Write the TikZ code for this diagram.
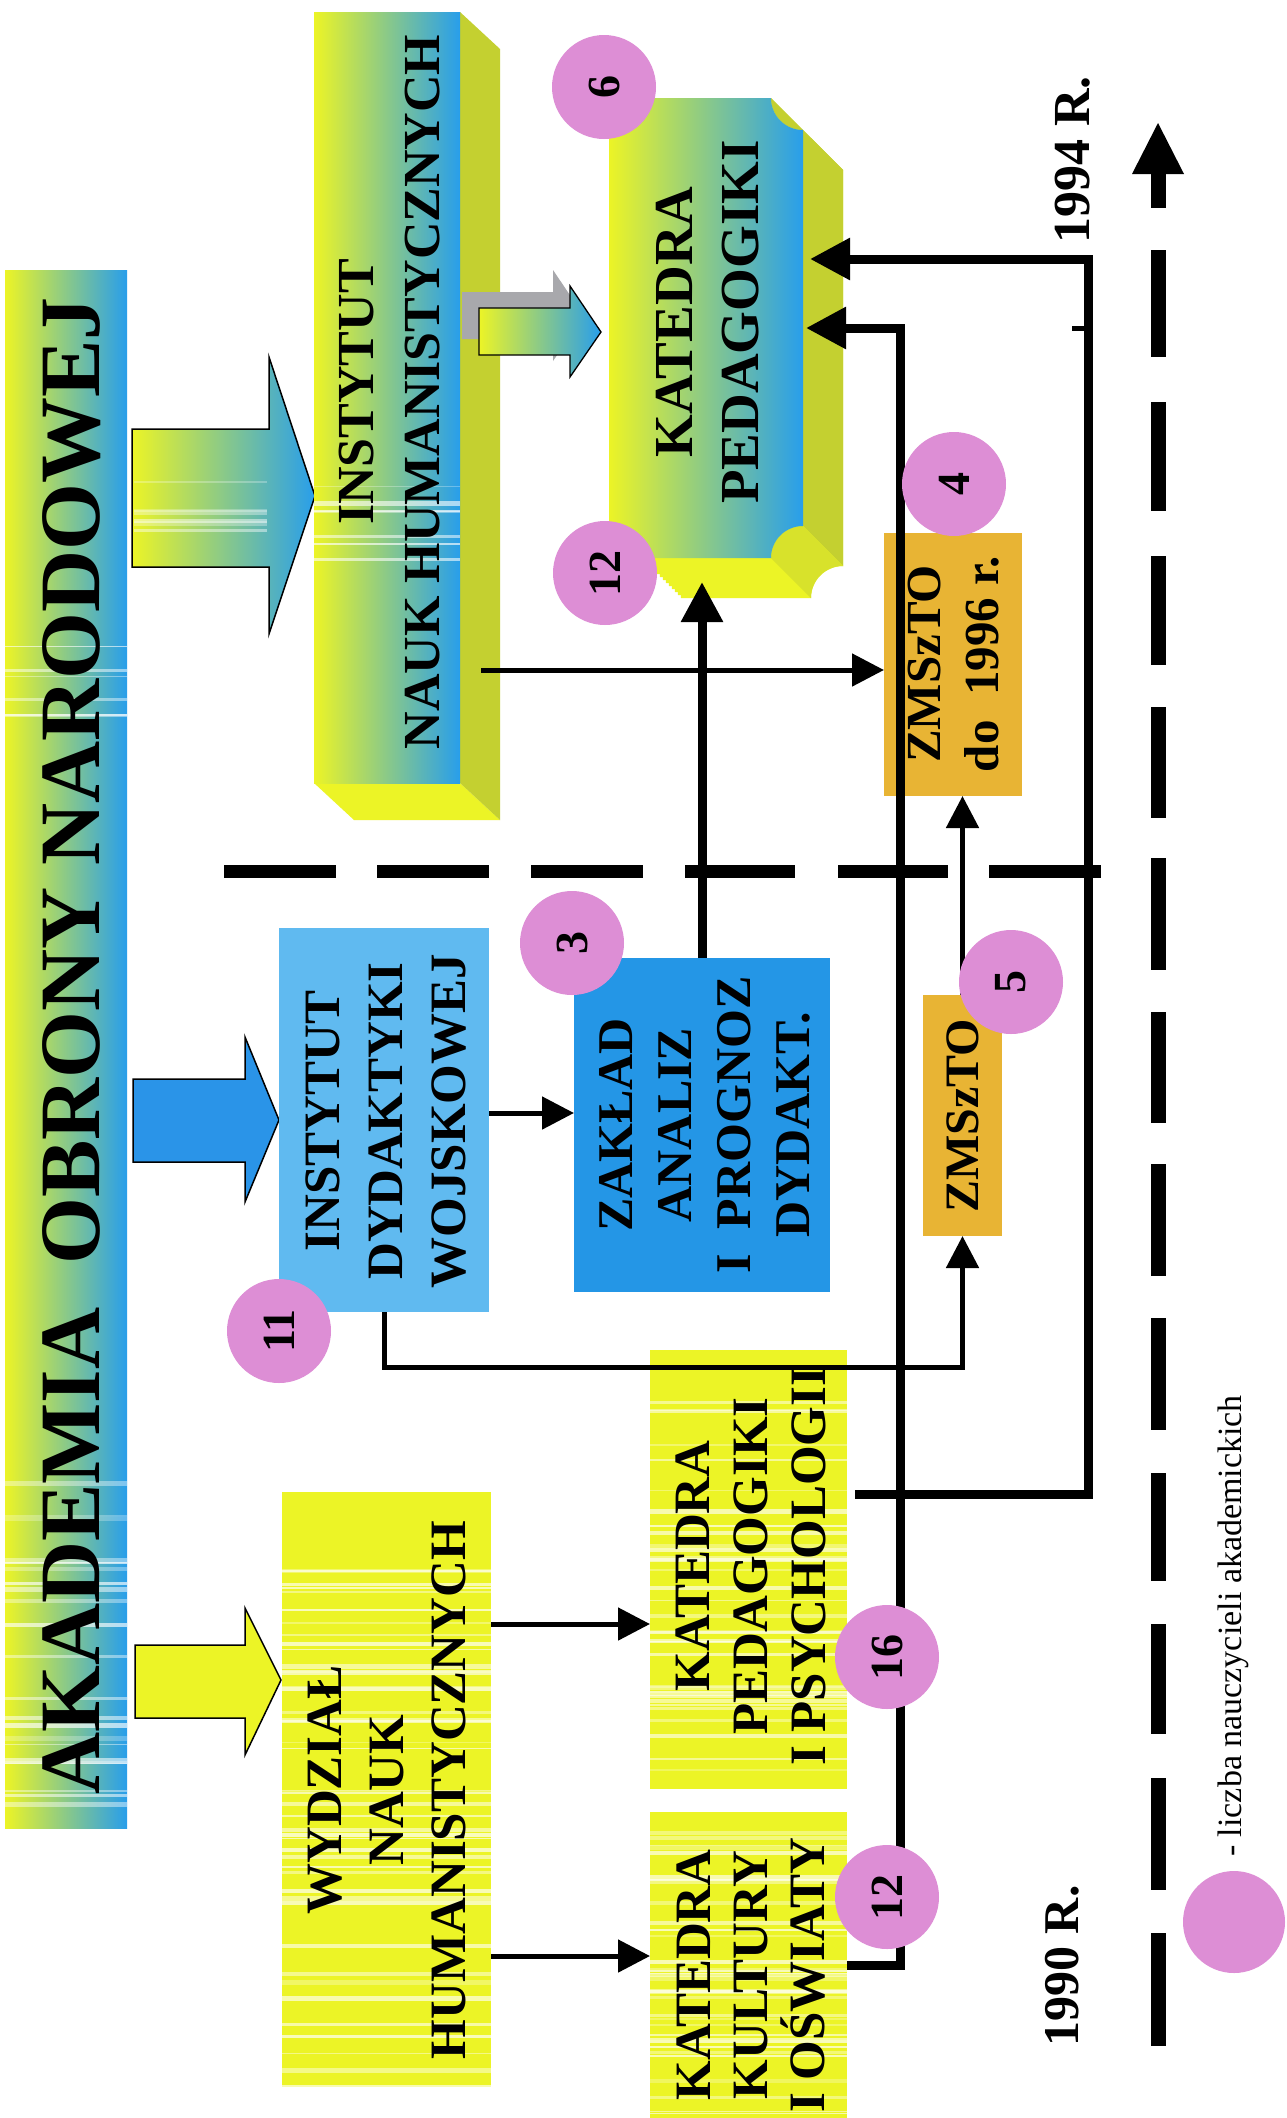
\documentclass[tikz,border=0pt]{standalone}
\usepackage{fontspec}
\setmainfont{Liberation Serif}
\usetikzlibrary{arrows.meta}
\definecolor{ylw}{RGB}{236,244,38}
\definecolor{blu}{RGB}{40,158,235}
\definecolor{pale}{RGB}{205,238,215}
\definecolor{olv}{RGB}{196,208,48}
\definecolor{lblu}{RGB}{96,186,240}
\definecolor{zblu}{RGB}{36,150,230}
\definecolor{ablu}{RGB}{42,148,232}
\definecolor{orng}{RGB}{232,180,52}
\definecolor{pnk}{RGB}{221,142,213}
\definecolor{shd}{RGB}{168,168,172}
\newcommand{\myfs}[2]{\fontsize{#1pt}{#2pt}\selectfont\bfseries}
\newcommand{\kpshape}[1]{\path[#1] (641,98) -- (771,98) .. controls (771,115.7) and (785.3,130) .. (803,130) -- (803,526) .. controls (785.3,526) and (771,540.3) .. (771,558) -- (641,558) .. controls (641,540.3) and (626.7,526) .. (609,526) -- (609,130) .. controls (626.7,130) and (641,115.7) .. (641,98) -- cycle;}
\newcommand{\streaks}[5]{%
  \foreach \i in {1,...,#5}{%
    \pgfmathsetmacro\yy{#3+rnd*(#4-#3)}%
    \pgfmathsetmacro\hh{1+rnd*4}%
    \pgfmathsetmacro\op{0.25+rnd*0.45}%
    \fill[white, opacity=\op] (#1,\yy) rectangle (#2,\yy+\hh);
  }}
\begin{document}
\begin{tikzpicture}[x=1pt,y=-1pt,
 box/.style={inner sep=0pt, outer sep=0pt},
 lbl/.style={rotate=90, align=center, inner sep=0pt},
 num/.style={circle, fill=pnk, minimum size=104pt, inner sep=0pt, rotate=90, font=\myfs{46}{50}},
 thinarr/.style={line width=5pt, line join=miter, -{Triangle[length=32pt,width=32pt]}},
 thickarr/.style={line width=9pt, line join=miter, -{Triangle[length=40pt,width=40pt]}},
 outl/.style={draw=black, line width=1.5pt, line join=miter}]
\useasboundingbox (0,0) rectangle (1286,2118);
\fill[white] (0,0) rectangle (1286,2118);
\pgfmathsetseed{4711}

% AKADEMIA bar
\node[box, minimum width=122pt, minimum height=1558pt, left color=ylw, middle color=pale, right color=blu] (akad) at (66,1049) {};
\streaks{5}{127}{1480}{1828}{22}
\streaks{5}{127}{640}{720}{6}
\node[lbl, font=\myfs{86}{100}] (akadt) at (72,1046) {AKADEMIA~~OBRONY NARODOWEJ};

% big arrows
\draw[outl, left color=ylw, middle color=pale, right color=blu] (132,429) -- (269,429) -- (269,357) -- (315,496) -- (269,634) -- (269,567) -- (132,567) -- cycle;
\streaks{134}{267}{480}{540}{6}
\draw[outl, fill=ablu] (133,1079) -- (245,1079) -- (245,1037) -- (279,1120) -- (245,1202) -- (245,1162) -- (133,1162) -- cycle;
\draw[outl, fill=ylw] (135,1645) -- (245,1645) -- (245,1608) -- (281,1680) -- (245,1755) -- (245,1718) -- (135,1718) -- cycle;

% INSTYTUT NAUK HUMANISTYCZNYCH (3D)
\fill[ylw] (314,783) -- (460,783) -- (500,820) -- (354,820) -- cycle;
\fill[olv] (460,12) -- (500,49) -- (500,820) -- (460,783) -- cycle;
\node[box, minimum width=146pt, minimum height=771pt, left color=ylw, middle color=pale, right color=blu] (inh) at (387,397.5) {};
\streaks{314}{460}{470}{560}{7}
\node[lbl, font=\myfs{52}{66}] at (390,392) {INSTYTUT\\NAUK HUMANISTYCZNYCH};

% small arrow with shadow
\fill[shd, shift={(-17,-16)}] (479,308) -- (570,308) -- (570,286) -- (601,332) -- (570,377) -- (570,355) -- (479,355) -- cycle;
\draw[outl, line width=1.3pt, left color=ylw, middle color=pale, right color=blu] (479,308) -- (570,308) -- (570,286) -- (601,332) -- (570,377) -- (570,355) -- (479,355) -- cycle;

% KATEDRA PEDAGOGIKI (3D plaque)
\foreach \t in {40,37,...,1} {\kpshape{fill=ylw, shift={(\t,\t)}}}
\fill[olv] (803,130) -- (843,170) -- (843,566) -- (803,526) -- cycle;
\fill[olv] (771,98) .. controls (771,115.7) and (785.3,130) .. (803,130) -- (843,170) .. controls (825.3,170) and (811,155.7) .. (811,138) -- cycle;
\fill[olv!50!ylw] (803,526) .. controls (785.3,526) and (771,540.3) .. (771,558) -- (811,598) .. controls (811,580.3) and (825.3,566) .. (843,566) -- cycle;
\kpshape{left color=ylw, middle color=pale, right color=blu}
\node[box, minimum width=194pt, minimum height=460pt] (kp) at (706,328) {};
\node[lbl, font=\myfs{55}{66}] at (708,322) {KATEDRA\\PEDAGOGIKI};

% other boxes
\node[box, fill=lblu, minimum width=210pt, minimum height=384pt] (idw) at (384,1120) {};
\node[box, fill=zblu, minimum width=256pt, minimum height=334pt] (zak) at (702,1125) {};
\node[box, fill=orng, minimum width=138pt, minimum height=263pt] (zm96) at (953,664.5) {};
\node[box, fill=orng, minimum width=79pt, minimum height=241pt] (zm) at (962.5,1115.5) {};
\node[box, fill=ylw, minimum width=209pt, minimum height=595pt] (wyd) at (386.5,1789.5) {};
\node[box, fill=ylw, minimum width=197pt, minimum height=439pt] (kpp) at (748.5,1569.5) {};
\node[box, fill=ylw, minimum width=197pt, minimum height=306pt] (kko) at (748.5,1965) {};
\streaks{282}{491}{1540}{2087}{45}
\streaks{650}{847}{1480}{1789}{30}
\streaks{650}{847}{1370}{1470}{5}
\streaks{650}{847}{1812}{2118}{35}

\node[lbl, font=\myfs{51}{63}] at (386,1121) {INSTYTUT\\DYDAKTYKI\\WOJSKOWEJ};
\node[lbl, font=\myfs{50}{59}] at (705,1125) {ZAKŁAD\\ANALIZ\\I~~PROGNOZ\\DYDAKT.};
\node[lbl, font=\myfs{49}{58}] at (954,664) {ZMSzTO\\do~~1996 r.};
\node[lbl, font=\myfs{48}{58}] at (963,1116) {ZMSzTO};
\node[lbl, font=\myfs{51}{62}] at (387,1790) {WYDZIAŁ\\NAUK\\HUMANISTYCZNYCH};
\node[lbl, font=\myfs{51}{58}] at (751,1566) {KATEDRA\\PEDAGOGIKI\\I PSYCHOLOGII};
\node[lbl, font=\myfs{51}{57}] at (751,1975) {KATEDRA\\KULTURY\\I OŚWIATY};

% connectors
\coordinate (s1) at (481,670);
\draw[thinarr] (s1) -- (s1 -| zm96.west);
\draw[thinarr] ([yshift=7pt]idw.east) -- ([yshift=7pt]idw.east -| zak.west);
\draw[thinarr] (idw.south) -- ++(0,55) -| (zm.south);
\draw[thinarr] (zm.north) -- (zm.north |- zm96.south);
\coordinate (kpin) at (702,582);
\draw[thickarr] (zak.north) -- (kpin);
\coordinate (w1) at (491,1624);
\coordinate (w2) at (491,1956);
\draw[thinarr] (w1) -- (w1 -| kpp.west);
\draw[thinarr] (w2) -- (w2 -| kko.west);
\coordinate (a1) at (900,1965);
\coordinate (a2) at (900,328);
\coordinate (a3) at (806,328);
\draw[thickarr] (kko.east) -- (a1) -- (a2) -- (a3);
\coordinate (b0) at (855,1494);
\coordinate (b1) at (1088,1494);
\coordinate (b2) at (1088,259);
\coordinate (b3) at (810,259);
\draw[thickarr] (b0) -- (b1) -- (b2) -- (b3);
\coordinate (st) at (1072,328);
\draw[line width=5pt] (st) -- (st -| b2);

% dashed lines
\foreach \a/\b in {224/336,377/489,531/643,685/795,838/948,989/1101}
  \draw[line width=13pt] (\a,871) -- (\b,871);
\fill (1158,123) -- (1184,174) -- (1132,174) -- cycle;
\foreach \a/\b in {170/208,250/357,402/511,556/665,707/818,858/970,1012/1123,1164/1276,1318/1430,1473/1581,1624/1734,1778/1890,1933/2046}
  \draw[line width=15pt] (1158,\a) -- (1158,\b);

% circles
\node[num] (c6) at (604,87) {6};
\node[num] (c12a) at (605,573) {12};
\node[num] (c4) at (954,484) {4};
\node[num] (c3) at (572,943) {3};
\node[num] (c11) at (279,1331) {11};
\node[num] (c5) at (1011,982) {5};
\node[num] (c16) at (887,1657) {16};
\node[num] (c12b) at (887,1897) {12};
\node[num, minimum size=102pt] (cl) at (1234,1922) {};

% years and legend
\node[lbl, font=\myfs{52}{60}] (y94) at (1073,160) {1994 R.};
\node[lbl, font=\myfs{50}{60}] (y90) at (1062,1966) {1990 R.};
\node[rotate=90, anchor=west, inner sep=0pt, font=\fontsize{34pt}{40pt}\selectfont] (lg) at (1233,1857) {- liczba nauczycieli akademickich};
\end{tikzpicture}
\end{document}
